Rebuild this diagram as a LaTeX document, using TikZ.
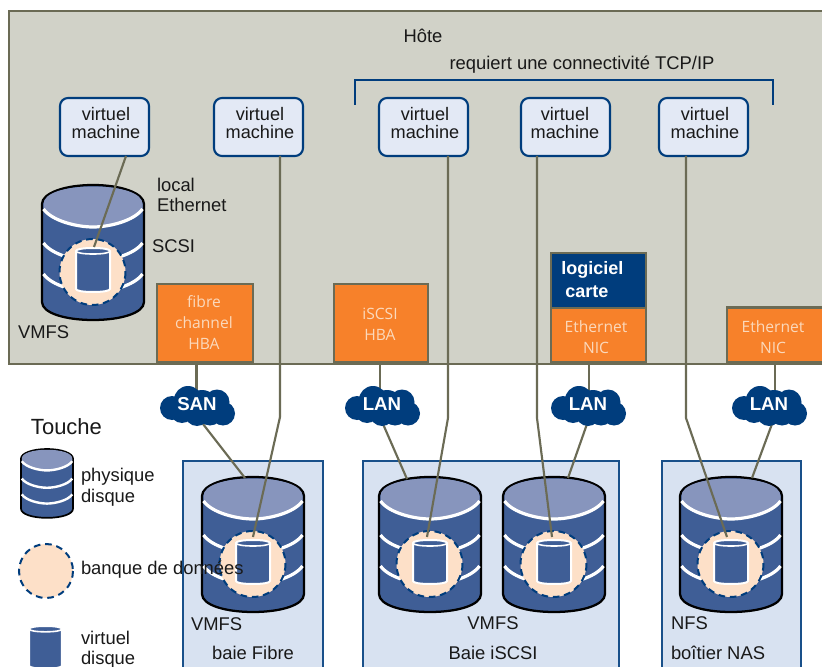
\documentclass[tikz,border=0pt]{standalone}
\usepackage{fontspec}
\setmainfont{Liberation Sans}
\newfontfamily\nicfont{Open Sans}
\pgfdeclarelayer{front}
\pgfsetlayers{main,front}
\definecolor{hostfill}{HTML}{D1D2C8}
\definecolor{olive}{HTML}{6B6B55}
\definecolor{navy}{HTML}{003D7D}
\definecolor{vmfill}{HTML}{E3E9F5}
\definecolor{arrayfill}{HTML}{D8E2F1}
\definecolor{hba}{HTML}{F7812A}
\definecolor{hbatext}{HTML}{FBD9BC}
\definecolor{diskbody}{HTML}{3F5E96}
\definecolor{disktop}{HTML}{8795BD}
\definecolor{store}{HTML}{FDE0C8}
\tikzset{
  x=0.75pt,y=-0.75pt,
  txt/.style={inner sep=0pt,outer sep=0pt,font=\fontsize{13.8}{15}\selectfont,text=black!90},
  ltxt/.style={txt,anchor=west,align=left},
  ctxt/.style={txt,align=center},
  vmtxt/.style={txt,align=center,font=\fontsize{13.6}{13.5}\selectfont},
  vmbox/.style={draw=navy,fill=vmfill,line width=1.6pt,rounded corners=6pt,minimum width=66.75pt,minimum height=43.5pt,inner sep=0pt,outer sep=0pt},
  arraybox/.style={draw=navy!90,fill=arrayfill,line width=1.4pt},
  cardbox/.style={draw=olive,fill=hba,line width=2.2pt,inner sep=0pt,outer sep=0pt},
  cardtxt/.style={inner sep=0pt,outer sep=0pt,align=center,text=hbatext,font=\nicfont\fontsize{11.7}{15.75}\selectfont},
  softbox/.style={draw=olive,fill=navy,line width=2.2pt,inner sep=0pt,outer sep=0pt},
  softtxt/.style={inner sep=0pt,anchor=west,text=white,font=\bfseries\fontsize{13.5}{16}\selectfont},
  wire/.style={draw=olive,line width=1.6pt},
  cloudzone/.style={inner sep=0pt,outer sep=0pt,minimum width=56.25pt,minimum height=30pt},
  cloudtxt/.style={inner sep=0pt,text=white,font=\bfseries\fontsize{14}{15}\selectfont},
  storeround/.style={fill=store,draw=navy,line width=1.5pt,dash pattern=on 5pt off 3.6pt},
}
% physical disk: origin top-left, 102 x 135 px
\newcommand{\physdisk}[4]{%
  \begin{scope}[shift={(#1,#2)},scale=#3]
    \path[fill=diskbody,draw=black,line width=#4*1.7pt]
      (0,19) -- (0,117) .. controls (0,128) and (23,135) .. (51,135)
      .. controls (79,135) and (102,128) .. (102,117) -- (102,19)
      .. controls (102,8) and (79,0) .. (51,0) .. controls (23,0) and (0,8) .. (0,19) -- cycle;
    \path[fill=disktop]
      (1.5,19) .. controls (1.5,8) and (23,1.5) .. (51,1.5) .. controls (79,1.5) and (100.5,8) .. (100.5,19)
      -- (100.5,24) .. controls (92,36) and (67,42) .. (51,42) .. controls (35,42) and (10,36) .. (1.5,24) -- cycle;
    \foreach \dy in {0,34,65}
      \draw[white,line width=#4*2.4pt,shift={(0,\dy)}]
        (1.5,24) .. controls (10,36) and (35,42) .. (51,42) .. controls (67,42) and (92,36) .. (100.5,24);
  \end{scope}}
% virtual disk: origin top-left, 34 x 44 px
\newcommand{\virtdisk}[3]{%
  \begin{scope}[shift={(#1,#2)},scale=#3]
    \path[fill=diskbody,draw=white,line width=1.5pt]
      (0,3) -- (0,41) .. controls (0,43) and (8,44) .. (17,44) .. controls (26,44) and (34,43) .. (34,41)
      -- (34,3) .. controls (34,1) and (26,0) .. (17,0) .. controls (8,0) and (0,1) .. (0,3) -- cycle;
    \draw[white,line width=1.2pt] (0,3) .. controls (0,5) and (8,6) .. (17,6) .. controls (26,6) and (34,5) .. (34,3);
  \end{scope}}
\newcommand{\fulldisk}[2]{%
  \physdisk{#1}{#2}{1}{1}
  \path[storeround] (#1+50.5,#2+87) circle [radius=33];
  \virtdisk{#1+34}{#2+63}{1}}
% cloud, origin top-left, 75 x 40 px
\newcommand{\cloudshape}[2]{%
  \begin{scope}[shift={(#1,#2)}]
    \fill[navy] (12,22) circle [radius=12] (28,14) circle [radius=14] (57,16) circle [radius=12.5]
      (63,27.5) circle [radius=12] (37,28) circle [radius=12] (22,25) circle [radius=12] (50,27) circle [radius=12.5] (42,20) circle [radius=16];
  \end{scope}}
\begin{document}
\begin{tikzpicture}
\clip (0,0) rectangle (822,667);
\fill[white] (0,0) rectangle (822,667);
% host
\path[fill=hostfill,draw=olive,line width=2.2pt] (9,11) rectangle (840,364);
\node[ctxt] (hote) at (423,36) {Hôte};
\node[ctxt] (tcp) at (582,64.5) {requiert une connectivité TCP/IP};
\draw[navy,line width=1.2pt] (355,105) -- (355,80) -- (773,80) -- (773,105);
% arrays
\path[arraybox] (183,461) rectangle (323,690);
\path[arraybox] (363,461) rectangle (619,690);
\path[arraybox] (662,461) rectangle (801,690);
% virtual machines
\node[vmbox] (vm1) at (104.5,127) {};
\node[vmbox] (vm2) at (258.5,127) {};
\node[vmbox] (vm3) at (423.5,127) {};
\node[vmbox] (vm4) at (565.5,127) {};
\node[vmbox] (vm5) at (703.5,127) {};
\node[vmtxt] (vmt1) at (106,123.5) {virtuel\\machine};
\node[vmtxt] (vmt2) at (260,123.5) {virtuel\\machine};
\node[vmtxt] (vmt3) at (425,123.5) {virtuel\\machine};
\node[vmtxt] (vmt4) at (565,123.5) {virtuel\\machine};
\node[vmtxt] (vmt5) at (705,123.5) {virtuel\\machine};
% disks
\fulldisk{42}{185}
\fulldisk{202}{477}
\fulldisk{379}{477}
\fulldisk{503}{477}
\fulldisk{680}{477}
% cards
\node[cardbox,minimum width=72pt,minimum height=58.5pt] (fc) at (205,323) {};
\node[cardtxt] (fct) at (204,323) {fibre\\channel\\HBA};
\node[cardbox,minimum width=70.5pt,minimum height=58.5pt] (iscsi) at (381,323) {};
\node[cardtxt] (iscsit) at (380,324.5) {iSCSI\\HBA};
\node[softbox,minimum width=71.25pt,minimum height=41.25pt] (soft) at (598.5,280.5) {};
\node[softtxt] (softa) at (561,270) {logiciel};
\node[softtxt] (softb) at (565,292) {carte};
\node[cardbox,minimum width=71.25pt,minimum height=40.5pt] (nic1) at (598.5,335) {};
\node[cardtxt] (nic1t) at (596,337) {Ethernet\\NIC};
\node[cardbox,minimum width=75pt,minimum height=41.25pt,anchor=north west] (nic2) at (727,307.5) {};
\node[cardtxt] (nic2t) at (773,337) {Ethernet\\NIC};
% clouds
\begin{pgfonlayer}{front}
\cloudshape{160}{386} \node[cloudzone] (san) at (197.5,406) {};
\cloudshape{345}{386} \node[cloudzone] (lan1) at (382.5,406) {};
\cloudshape{551}{386} \node[cloudzone] (lan2) at (588.5,406) {};
\cloudshape{732}{386} \node[cloudzone] (lan3) at (769.5,406) {};
\node[cloudtxt] (santxt) at (197,404) {SAN};
\node[cloudtxt] (lantxta) at (382,404) {LAN};
\node[cloudtxt] (lantxtb) at (588,404) {LAN};
\node[cloudtxt] (lantxtc) at (769,404) {LAN};
\end{pgfonlayer}
% connector ends and bends
\coordinate (v1end) at (94,247);
\coordinate (v1top) at (126,157);
\coordinate (b2) at (280,417);   \coordinate (v2end) at (253,537);
\coordinate (b3) at (448,418);   \coordinate (v3end) at (427,537);
\coordinate (b4) at (537,418);   \coordinate (v4end) at (552,537);
\coordinate (b5) at (686,418);   \coordinate (v5end) at (727,537);
\coordinate (fcx) at (196.5,395);
\coordinate (l1x) at (380,395);
\coordinate (l2x) at (589,395);
\coordinate (l3x) at (775,395);
\coordinate (sanout) at (203,424); \coordinate (sand) at (245,478);
\coordinate (l1out) at (383,424);  \coordinate (l1d) at (407,479);
\coordinate (l2out) at (587,424);  \coordinate (l2d) at (568,478);
\coordinate (l3out) at (772,424);  \coordinate (l3d) at (752,478);
% connectors
\draw[wire] (vm1.south -| v1top) -- (v1end);
\draw[wire] (vm2.south -| b2) -- (b2) -- (v2end);
\draw[wire] (vm3.south -| b3) -- (b3) -- (v3end);
\draw[wire] (vm4.south -| b4) -- (b4) -- (v4end);
\draw[wire] (vm5.south -| b5) -- (b5) -- (v5end);
\draw[wire] (fc.south -| fcx) -- (fcx);
\draw[wire] (iscsi.south -| l1x) -- (l1x);
\draw[wire] (nic1.south -| l2x) -- (l2x);
\draw[wire] (nic2.south -| l3x) -- (l3x);
\draw[wire] (sanout) -- (sand);
\draw[wire] (l1out) -- (l1d);
\draw[wire] (l2out) -- (l2d);
\draw[wire] (l3out) -- (l3d);
% host labels
\node[ltxt] (localeth) at (157,194.5) {local\\Ethernet};
\node[ltxt] (scsi) at (152,246.5) {SCSI};
\node[ltxt] (vmfsa) at (18,332.5) {VMFS};
% legend
\node[txt,anchor=west,font=\fontsize{16.5}{20}\selectfont] (touche) at (31,426.5) {Touche};
\physdisk{21}{449}{0.51}{0.75}
\node[ltxt] (phys) at (81,487) {physique\\[0.75pt]disque};
\path[storeround,line width=1.5pt] (46,571) circle [radius=27];
\node[ltxt] (banque) at (81,570) {banque de données};
\virtdisk{29}{626}{0.97}
\node[ltxt] (virt) at (81,649.5) {virtuel\\disque};
% array labels
\node[ltxt] (vmfsb) at (191,624.5) {VMFS};
\node[ctxt] (baief) at (253,652.5) {baie Fibre};
\node[ctxt] (vmfsc) at (493,623.5) {VMFS};
\node[ctxt] (baiei) at (493,652.5) {Baie iSCSI};
\node[ltxt] (nfs) at (671,623.5) {NFS};
\node[ltxt] (nas) at (671,652.5) {boîtier NAS};
\end{tikzpicture}
\end{document}
